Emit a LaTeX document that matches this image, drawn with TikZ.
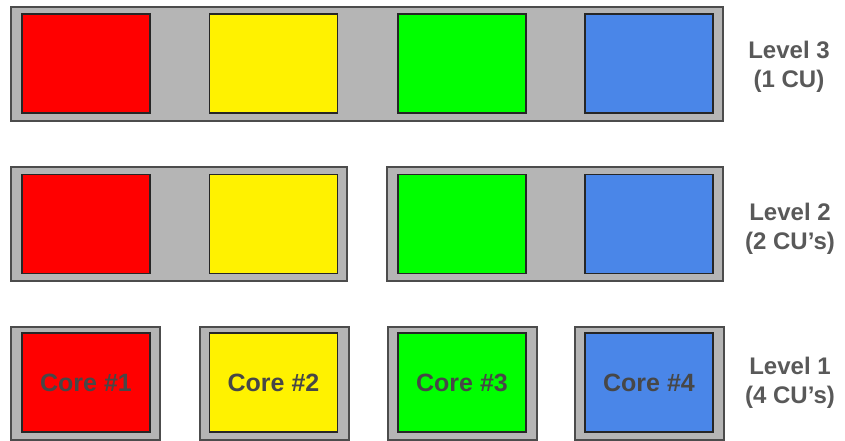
\documentclass[tikz,border=0pt]{standalone}
\usepackage{fontspec}
\setmainfont{Liberation Sans}
\usetikzlibrary{positioning}
\definecolor{cugray}{RGB}{181,181,181}
\definecolor{coreblue}{RGB}{74,134,232}
\definecolor{coregreen}{RGB}{0,255,0}
\tikzset{board/.style = {draw = black!70, line width = 1.5pt, fill = cugray, inner sep = 0},
         core/.style = {draw = black!85, line width = 1.2pt, inner sep = 0,
                        minimum width = 128pt, minimum height = 99pt,
                        text = black!72, font = \fontsize{25}{30}\selectfont\bfseries},
         lvl/.style = {align = center, text = black!65, font = \fontsize{24}{29}\selectfont\bfseries}}

\begin{document}
\begin{tikzpicture}[x=1pt, y=-1pt]
\useasboundingbox (0, 0) rectangle (845, 441);

% level 3: one CU
      \node [board, minimum width = 712pt, minimum height = 114pt] (cu3) at (367, 64) {};
      \node [core, fill = red] (r3) at (86, 63.5) {};
      \node [core, fill = yellow] (y3) at (273.5, 63.5) {};
      \node [core, fill = coregreen] (g3) at (462, 63.5) {};
      \node [core, fill = coreblue] (b3) at (649, 63.5) {};
      \node [lvl] (l3) at (789, 67) {Level 3\\(1 CU)};

% level 2: two CU's
      \node [board, minimum width = 336pt, minimum height = 114pt] (cu2a) at (179, 224) {};
      \node [board, minimum width = 336pt, minimum height = 114pt] (cu2b) at (555, 224) {};
      \node [core, fill = red] (r2) at (86, 224) {};
      \node [core, fill = yellow] (y2) at (273.5, 224) {};
      \node [core, fill = coregreen] (g2) at (462, 224) {};
      \node [core, fill = coreblue] (b2) at (649, 224) {};
      \node [lvl] (l2) at (790, 229) {Level 2\\(2 CU's)};

% level 1: four CU's
      \node [board, minimum width = 149pt, minimum height = 113pt] (cu1a) at (85.5, 383.5) {};
      \node [board, minimum width = 149pt, minimum height = 113pt] (cu1b) at (274.5, 383.5) {};
      \node [board, minimum width = 149pt, minimum height = 113pt] (cu1c) at (462.5, 383.5) {};
      \node [board, minimum width = 149pt, minimum height = 113pt] (cu1d) at (649.5, 383.5) {};
      \node [core, fill = red] (r1) at (86, 382.5) {Core \#1};
      \node [core, fill = yellow] (y1) at (273.5, 382.5) {Core \#2};
      \node [core, fill = coregreen] (g1) at (462, 382.5) {Core \#3};
      \node [core, fill = coreblue] (b1) at (649, 382.5) {Core \#4};
      \node [lvl] (l1) at (790, 383) {Level 1\\(4 CU's)};
\end{tikzpicture}
\end{document}
